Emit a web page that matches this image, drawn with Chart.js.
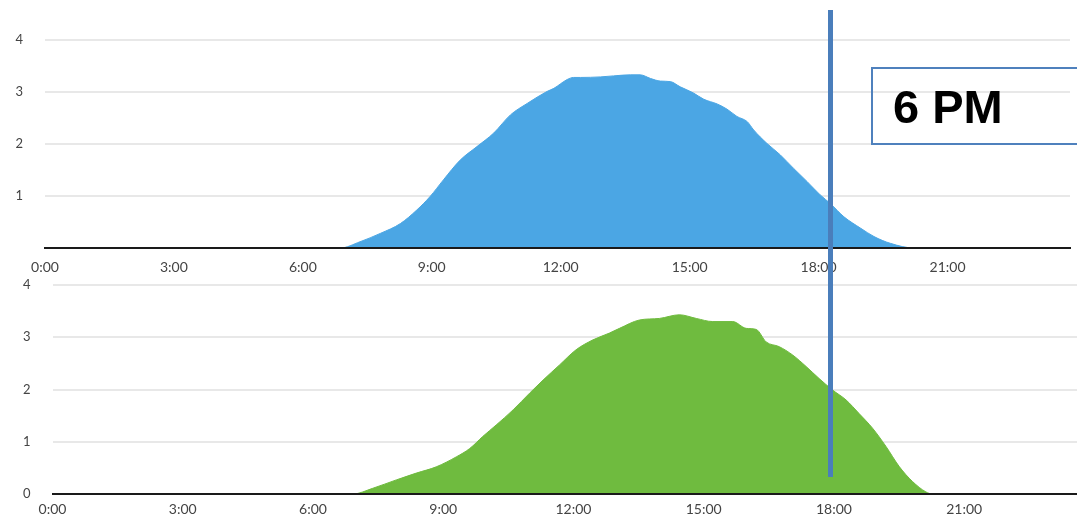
<!DOCTYPE html>
<html>
<head>
<meta charset="utf-8">
<script src="https://cdn.jsdelivr.net/npm/chart.js@4/dist/chart.umd.min.js"></script>
<style>
  html, body { margin: 0; padding: 0; background: #fff; }
  #wrap { position: relative; width: 1077px; height: 520px; overflow: hidden; }
  .box { position: absolute; left: 0; width: 1077px; }
  #top-box { top: 0; height: 276px; }
  #bot-box { top: 276px; height: 244px; }
  #marker {
    position: absolute; left: 828px; top: 10px; width: 5px; height: 467px;
    background: #4a7ebb; pointer-events: none;
  }
  #label {
    position: absolute; left: 871px; top: 67px; width: 230px; height: 78px;
    border: 2px solid #4f81bd; pointer-events: none;
    font: bold 47px "Liberation Sans", Arial, sans-serif; color: #000;
    line-height: 76px; padding-left: 20px; box-sizing: border-box;
  }
</style>
</head>
<body>
<div id="wrap">
  <div class="box" id="top-box"><canvas id="top-chart"></canvas></div>
  <div class="box" id="bot-box"><canvas id="bot-chart"></canvas></div>
  <div id="marker"></div>
  <div id="label">6 PM</div>
</div>
<script>
// Two stacked daily power curves (hours 0-24), with a 6 PM marker over both.

const topHours = [0, 6.87, 7.33, 7.80, 8.27, 8.65, 8.96, 9.27, 9.66, 10.05, 10.44, 10.83, 11.22, 11.68, 11.84,
  12.15, 12.30, 12.46, 12.92, 13.23, 13.62, 13.85, 14.09, 14.32, 14.55, 14.78, 15.09, 15.33, 15.64, 15.87,
  16.10, 16.34, 16.49, 16.80, 17.11, 17.42, 17.73, 18.04, 18.28, 18.59, 18.98, 19.29, 19.67, 20.22, 23.85];
const topValues = [0, 0, 0.12, 0.28, 0.47, 0.73, 0.99, 1.31, 1.69, 1.95, 2.21, 2.56, 2.78, 3.01, 3.07,
  3.24, 3.28, 3.28, 3.29, 3.31, 3.33, 3.33, 3.26, 3.21, 3.20, 3.10, 2.98, 2.86, 2.77, 2.67,
  2.53, 2.43, 2.27, 2.01, 1.79, 1.53, 1.28, 1.02, 0.85, 0.60, 0.38, 0.22, 0.09, 0, 0];

const bottomHours = [0, 6.92, 7.38, 7.92, 8.38, 8.84, 9.30, 9.61, 9.91, 10.22, 10.61, 10.99, 11.30, 11.68,
  12.06, 12.45, 12.83, 13.06, 13.52, 13.98, 14.44, 14.83, 15.21, 15.67, 15.98, 16.21, 16.44, 16.74, 17.05,
  17.36, 17.66, 17.97, 18.28, 18.58, 18.89, 19.20, 19.51, 19.81, 20.12, 20.27, 23.6];
const bottomValues = [0, 0, 0.11, 0.27, 0.40, 0.52, 0.71, 0.87, 1.10, 1.32, 1.61, 1.93, 2.18, 2.47,
  2.76, 2.95, 3.08, 3.17, 3.33, 3.36, 3.43, 3.36, 3.30, 3.30, 3.17, 3.15, 2.91, 2.82, 2.66,
  2.44, 2.21, 1.99, 1.80, 1.54, 1.26, 0.91, 0.52, 0.24, 0.04, 0, 0];

const hourTicks = [0, 3, 6, 9, 12, 15, 18, 21];
const valueTicks = [0, 1, 2, 3, 4];

Chart.defaults.font.family = "Lato, 'Open Sans', sans-serif";
Chart.defaults.font.size = 14;
Chart.defaults.color = "#444";

function areaChart(id, hours, values, opts) {
  const pts = hours.map((h, i) => ({ x: h, y: values[i] }));
  return new Chart(document.getElementById(id), {
    type: "line",
    data: {
      datasets: [{
        data: pts,
        fill: "origin",
        backgroundColor: opts.color,
        borderColor: opts.color,
        borderWidth: 1,
        pointRadius: 0,
        cubicInterpolationMode: "monotone",
      }],
    },
    options: {
      responsive: true,
      maintainAspectRatio: false,
      animation: false,
      events: [],
      layout: { padding: { top: opts.padTop, right: opts.padRight, bottom: 0, left: 0 } },
      plugins: { legend: { display: false }, tooltip: { enabled: false } },
      scales: {
        x: {
          type: "linear",
          min: 0,
          max: opts.xMax,
          afterBuildTicks: (s) => { s.ticks = hourTicks.map((v) => ({ value: v })); },
          afterFit: (s) => { s.height = opts.xHeight; },
          ticks: { callback: (v) => `${v}:00`, padding: opts.xPad, autoSkip: false, maxRotation: 0 },
          grid: { display: false, drawTicks: false },
          border: { color: "#1a1a1a", width: 2, z: 1 },
        },
        y: {
          min: 0,
          max: 4,
          afterBuildTicks: (s) => { s.ticks = valueTicks.map((v) => ({ value: v })); },
          afterFit: (s) => { s.width = opts.yWidth; },
          // gap between labels and plot comes from an invisible tick mark,
          // so it doesn't pad the chart area top/bottom
          ticks: {
            padding: 0,
            font: { size: 13 },
            callback: (v) => (v === 0 && opts.hideZero ? "" : v),
          },
          grid: { color: "#e8e8e8", lineWidth: 2, drawTicks: true, tickLength: 22, tickColor: "rgba(0,0,0,0)" },
          border: { display: false },
        },
      },
    },
  });
}

areaChart("top-chart", topHours, topValues, {
  color: "#4ba6e4", xMax: 23.85, padTop: 40, padRight: 7,
  xHeight: 28, xPad: 11, yWidth: 45, hideZero: true,
});
areaChart("bot-chart", bottomHours, bottomValues, {
  color: "#6fbb3f", xMax: 23.6, padTop: 9, padRight: 0,
  xHeight: 26, xPad: 7, yWidth: 52.5, hideZero: false,
});
</script>
</body>
</html>
